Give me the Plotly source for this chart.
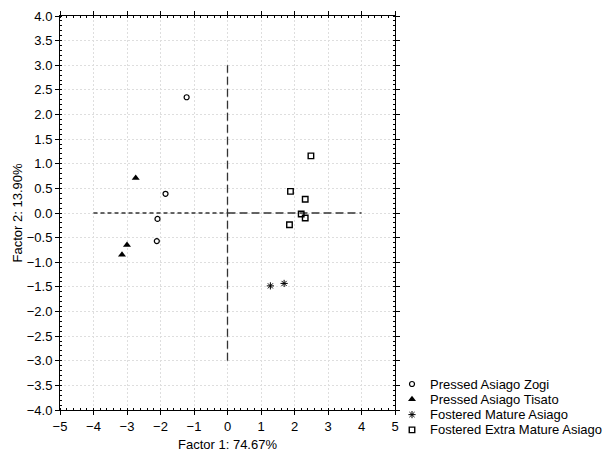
import plotly.graph_objects as go

zogi_x = [-1.22, -1.85, -2.09, -2.11]
zogi_y = [2.35, 0.39, -0.12, -0.57]
tisato_x = [-2.74, -3.00, -3.15]
tisato_y = [0.71, -0.65, -0.85]
mature_x = [1.28, 1.69]
mature_y = [-1.48, -1.43]
extra_x = [2.49, 1.88, 2.32, 2.20, 2.32, 1.85]
extra_y = [1.16, 0.44, 0.28, -0.02, -0.10, -0.24]

names = ["Pressed Asiago Zogi", "Pressed Asiago Tisato",
         "Fostered Mature Asiago", "Fostered Extra Mature Asiago"]

FONT = "Liberation Sans, Arial"
W, H = 605, 459
ML, MR, MT, MB = 60, 5, 16, 5
PW, PH = W - ML - MR, H - MT - MB
plot_right_px, plot_bottom_px = 395, 410
x_dom = [0, (plot_right_px - ML) / PW]
y_dom = [(H - MB - plot_bottom_px) / PH, 1]

styles = [
    dict(symbol="circle-open", size=5, color="black", line=dict(width=1.2, color="black")),
    dict(symbol="triangle-up", size=7, color="black", line=dict(width=0)),
    dict(symbol="asterisk-open", size=6, color="black", line=dict(width=1, color="black")),
    dict(symbol="square-open", size=5.5, color="black", line=dict(width=1.4, color="black")),
]
series = [(zogi_x, zogi_y), (tisato_x, tisato_y), (mature_x, mature_y), (extra_x, extra_y)]

fig = go.Figure()

# reference lines
fig.add_trace(go.Scatter(x=[-4, 0], y=[0, 0], mode="lines",
                         line=dict(color="#333", width=1.3, dash="4px,3px"),
                         showlegend=False, hoverinfo="skip"))
fig.add_trace(go.Scatter(x=[0, 4], y=[0, 0], mode="lines",
                         line=dict(color="#333", width=1.3, dash="8px,4px"),
                         showlegend=False, hoverinfo="skip"))
fig.add_trace(go.Scatter(x=[0, 0], y=[-3, 3], mode="lines",
                         line=dict(color="#333", width=1.3, dash="8px,4px"),
                         showlegend=False, hoverinfo="skip"))

for (xs, ys), st, nm in zip(series, styles, names):
    fig.add_trace(go.Scatter(x=xs, y=ys, mode="markers", name=nm, marker=st,
                             showlegend=False))

# custom legend (keys on a hidden axis, one row per series)
rows = list(range(len(names)))
for i, (st, nm) in enumerate(zip(styles, names)):
    fig.add_trace(go.Scatter(x=[0], y=[rows[i]], mode="markers", marker=st,
                             xaxis="x2", yaxis="y2", showlegend=False, hoverinfo="skip",
                             cliponaxis=False))
    fig.add_annotation(x=16, y=rows[i], xref="x2", yref="y2", text=nm, showarrow=False,
                       xanchor="left", yanchor="middle",
                       font=dict(family=FONT, size=13, color="black"))

axis_common = dict(showline=True, linecolor="black", linewidth=1, mirror="ticks",
                   showgrid=True, gridcolor="#dedede", griddash="2px,2px", gridwidth=1,
                   zeroline=False, ticks="outside", ticklen=4, tickcolor="black",
                   tickfont=dict(family=FONT, size=13, color="black"))

row_px = 15.3
first_row_px = 384
leg_top_px = 360
leg_dom = [0, (H - MB - leg_top_px) / PH]
y2_range = [(H - MB - first_row_px) / row_px, -(first_row_px - leg_top_px) / row_px]

fig.update_layout(
    width=W, height=H,
    margin=dict(l=ML, r=MR, t=MT, b=MB, autoexpand=False),
    paper_bgcolor="white", plot_bgcolor="white",
    font=dict(family=FONT, size=13, color="black"),
    showlegend=False,
    xaxis=dict(domain=x_dom, range=[-5, 5], dtick=1, tick0=-5,
               title=dict(text="Factor 1: 74.67%", standoff=7,
                          font=dict(family=FONT, size=13, color="black")),
               minor=dict(dtick=0.2, ticks="inside", ticklen=2, tickcolor="black", showgrid=False),
               anchor="y", **axis_common),
    yaxis=dict(domain=y_dom, range=[-4, 4], dtick=0.5, tick0=-4, tickformat=".1f",
               title=dict(text="Factor 2: 13.90%", standoff=1,
                          font=dict(family=FONT, size=13, color="black")),
               minor=dict(dtick=0.1, ticks="inside", ticklen=2, tickcolor="black", showgrid=False),
               anchor="x", **axis_common),
    xaxis2=dict(domain=[(411 - ML) / PW, 1], range=[-1, (W - MR) - 412], visible=False,
                anchor="y2", fixedrange=True),
    yaxis2=dict(domain=leg_dom, range=y2_range, visible=False, anchor="x2", fixedrange=True),
)

fig.write_html("out.html")
